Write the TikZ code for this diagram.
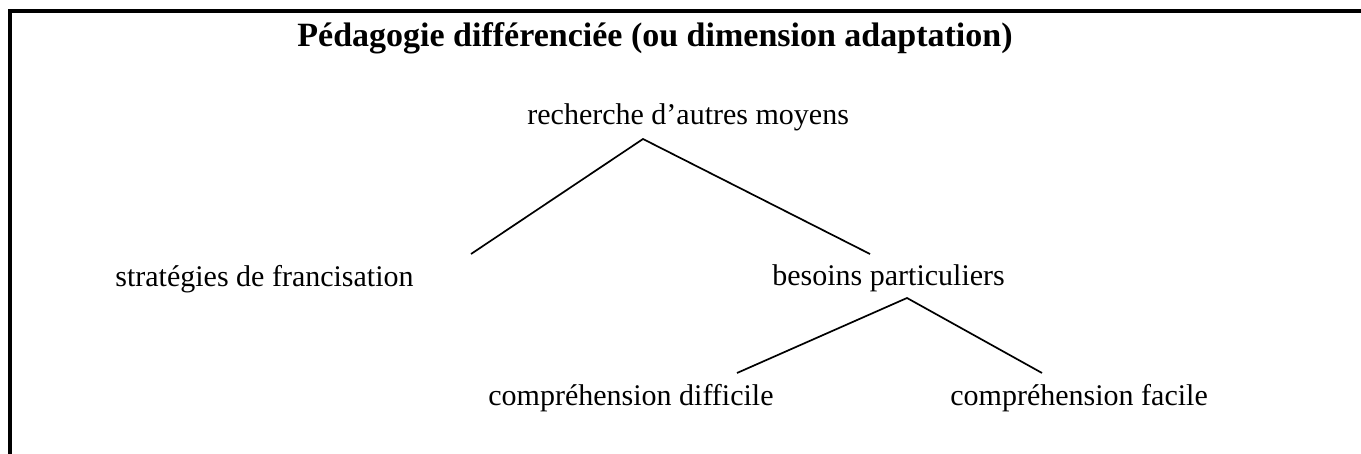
\documentclass[tikz,border=0pt]{standalone}
\usepackage{fontspec}
\setmainfont{Liberation Serif}
\begin{document}
\begin{tikzpicture}[x=0.5pt,y=-0.5pt,
  lbl/.style={anchor=base west,inner sep=0pt,font=\fontsize{15}{18}\selectfont},
  ttl/.style={anchor=base west,inner sep=0pt,font=\fontsize{17}{20}\selectfont\bfseries},
  link/.style={line width=0.85pt},
  frame/.style={line width=2pt,line join=miter,line cap=rect}]
\useasboundingbox (0,0) rectangle (1361,454);
\draw[frame] (10,454) -- (10,11) -- (1361,11);
\node[ttl] (title) at (297,47) {Pédagogie différenciée (ou dimension adaptation)};
\node[lbl] (rech) at (527,125) {recherche d’autres moyens};
\node[lbl] (strat) at (115,287) {stratégies de francisation};
\node[lbl] (bes) at (772,286) {besoins particuliers};
\node[lbl] (diff) at (488,406) {compréhension difficile};
\node[lbl] (fac) at (950,406) {compréhension facile};
\coordinate (a1) at (643,139);
\coordinate (s1) at (471,254);
\coordinate (b1) at (870,254);
\coordinate (a2) at (907,298);
\coordinate (d1) at (737,373);
\coordinate (f1) at (1042,373);
\draw[link] (s1) -- (a1) -- (b1);
\draw[link] (d1) -- (a2) -- (f1);
\end{tikzpicture}
\end{document}
